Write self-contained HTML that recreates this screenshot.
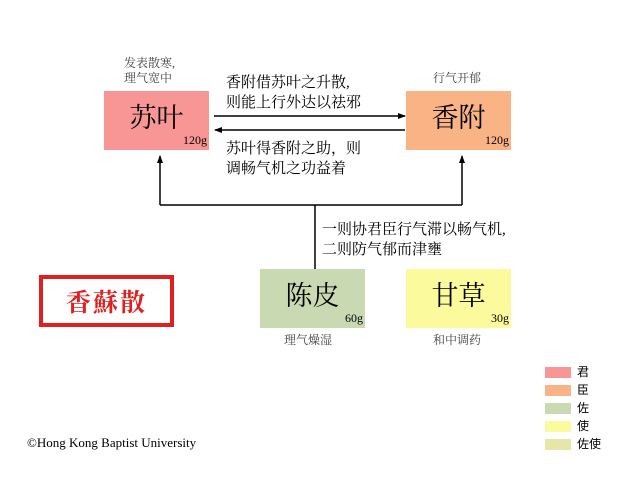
<!DOCTYPE html>
<html><head><meta charset="utf-8"><style>
body{margin:0;width:640px;height:480px;background:#fff;position:relative;overflow:hidden;font-family:"Liberation Serif","Noto Serif CJK SC",serif;color:#000}
.a{position:absolute}
.box{position:absolute;width:105px;height:59px}
.big{position:absolute;left:0;right:0;top:10px;text-align:center;font-family:"Liberation Serif","Noto Serif CJK SC",serif;font-size:27px;line-height:34px}
.g{position:absolute;right:2px;bottom:2px;font-size:12px}
.lbl{font-family:"Liberation Serif","Noto Serif CJK SC",serif;font-size:15px;line-height:20px}
.sm{font-family:"Liberation Serif","Noto Serif CJK SC",serif;font-size:12px;color:#444;line-height:15px}
.sw{position:absolute;left:545px;width:26px;height:11px}
.lg{position:absolute;left:577px;font-family:"Liberation Sans","Noto Sans CJK SC",sans-serif;font-size:12px;line-height:14px}
</style></head><body>
<svg class="a" style="left:0;top:0" width="640" height="480">
<defs><marker id="m" markerWidth="8" markerHeight="8" refX="7" refY="4" orient="auto" markerUnits="userSpaceOnUse"><path d="M0,1 L8,4 L0,7z" fill="#000"/></marker></defs>
<g stroke="#000" stroke-width="1.5" fill="none">
<line x1="214" y1="116" x2="405" y2="116" marker-end="url(#m)"/>
<line x1="405" y1="130" x2="215" y2="130" marker-end="url(#m)"/>
<polyline points="160,205 462,205"/>
<line x1="160" y1="205" x2="160" y2="156" marker-end="url(#m)"/>
<line x1="462" y1="205" x2="462" y2="156" marker-end="url(#m)"/>
<line x1="315" y1="205" x2="315" y2="269"/>
</g>
<rect x="41" y="277" width="131" height="48" fill="none" stroke="#e02020" stroke-width="4"/>
</svg>
<div class="a" style="left:41px;top:283px;width:131px;text-align:center;color:#e02020;font-family:'Liberation Serif','Noto Serif CJK SC',serif;font-size:25px;font-weight:bold;letter-spacing:2px">香蘇散</div>
<div class="a sm" style="left:124px;top:56px">发表散寒,<br>理气宽中</div>
<div class="a sm" style="left:433px;top:71px">行气开郁</div>
<div class="box" style="left:104px;top:91px;background:#f89696"><div class="big">苏叶</div><div class="g">120g</div></div>
<div class="box" style="left:406px;top:91px;background:#f9b384"><div class="big">香附</div><div class="g">120g</div></div>
<div class="box" style="left:260px;top:269px;background:#c9d9b2"><div class="big">陈皮</div><div class="g">60g</div></div>
<div class="box" style="left:406px;top:269px;background:#fbfb9e"><div class="big">甘草</div><div class="g">30g</div></div>
<div class="a lbl" style="left:226px;top:73px">香附借苏叶之升散,<br>则能上行外达以祛邪</div>
<div class="a lbl" style="left:226px;top:139px">苏叶得香附之助，则<br>调畅气机之功益着</div>
<div class="a lbl" style="left:322px;top:220px">一则协君臣行气滞以畅气机,<br>二则防气郁而津壅</div>
<div class="a sm" style="left:284px;top:333px">理气燥湿</div>
<div class="a sm" style="left:433px;top:333px">和中调药</div>
<div class="sw" style="top:367px;background:#f89696"></div><div class="lg" style="top:365px">君</div>
<div class="sw" style="top:385px;background:#f9b384"></div><div class="lg" style="top:383px">臣</div>
<div class="sw" style="top:403px;background:#c9d9b2"></div><div class="lg" style="top:401px">佐</div>
<div class="sw" style="top:421px;background:#fbfb9e"></div><div class="lg" style="top:419px">使</div>
<div class="sw" style="top:439px;background:#e6e6a8"></div><div class="lg" style="top:437px">佐使</div>
<div class="a" style="left:27px;top:435px;font-size:13px">©Hong Kong Baptist University</div>
</body></html>
